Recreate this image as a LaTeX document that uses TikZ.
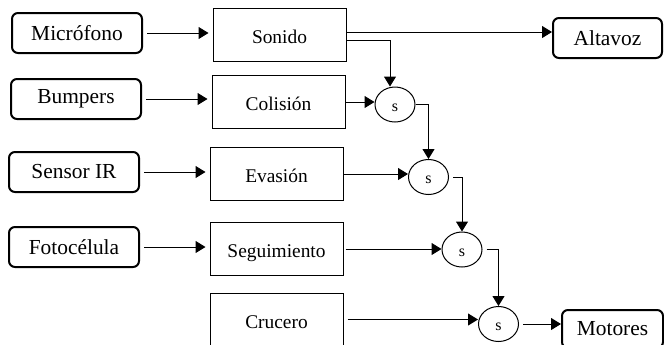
\documentclass[tikz,border=0pt]{standalone}
\usepackage{fontspec}
\setmainfont{LiberationSerif-Regular.ttf}
\usetikzlibrary{arrows.meta,positioning,shapes.geometric}
\tikzset{
    -{Triangle[length=5pt,width=6pt]},
    sensor/.style ={rectangle, draw, rounded corners=3pt, line width=1pt, minimum width=65pt, minimum height=20pt, font=\fontsize{10.7}{12}\selectfont},
    layer/.style ={rectangle, draw, minimum width=66.5pt, minimum height=26.5pt, text height=1.1em, text depth=0.25em, font=\fontsize{9.7}{11}\selectfont},
    supp/.style = {ellipse, draw, minimum width=20pt, minimum height=17.5pt, inner sep=0pt, text height=6.6pt, text depth=0pt, font=\fontsize{8}{8}\selectfont},
    gap/.style = {shorten <=2pt, shorten >=2pt}
}
\begin{document}
\begin{tikzpicture}[x=0.5pt,y=-0.5pt,line width=0.5pt]
    \clip (0,0) rectangle (664,344);
    % sensores
    \node[sensor] (mic) at (77,33) {Micrófono};
    \node[sensor] (bump) at (76,99) {Bumpers};
    \node[sensor] (ir) at (74,172) {Sensor IR};
    \node[sensor] (foto) at (74,247) {Fotocélula};
    % comportamientos
    \node[layer] (sonido) at (279.5,34.5) {Sonido};
    \node[layer] (colision) at (278.5,102) {Colisión};
    \node[layer] (evasion) at (276.5,174) {Evasión};
    \node[layer] (seguim) at (276.5,249) {Seguimiento};
    \node[layer] (crucero) at (276.5,319.5) {Crucero};
    % supresores
    \node[supp] (s1) at (395,104.5) {s};
    \node[supp] (s2) at (428.5,177) {s};
    \node[supp] (s3) at (462,249.5) {s};
    \node[supp] (s4) at (498.5,324) {s};
    % actuadores
    \node[sensor, minimum width=54.5pt] (altavoz) at (607.5,38) {Altavoz};
    \node[sensor, minimum width=50.5pt, minimum height=19pt] (motores) at (612.5,329) {Motores};

    \draw[gap] (mic) -- (mic -| sonido.west);
    \draw[gap] (bump) -- (bump -| colision.west);
    \draw[gap] (ir) -- (ir -| evasion.west);
    \draw[gap] (foto) -- (foto -| seguim.west);

    \coordinate (son1) at ([yshift=1.25pt]sonido.east);
    \coordinate (son2) at ([yshift=-2.75pt]sonido.east);
    \draw (son1) -- (son1 -| altavoz.west);
    \draw (son2) -| ([xshift=-2.5pt]s1.north);
    \draw (colision) -- (colision -| s1.west);
    \draw (s1) -| (s2);
    \draw (evasion) -- (evasion -| s2.west);
    \draw[shorten <=2pt] (s2) -| (s3);
    \draw[shorten <=1pt] (seguim) -- (seguim -| s3.west);
    \draw[shorten <=2pt] (s3) -| (s4);
    \draw[shorten <=2pt] (crucero) -- (crucero -| s4.west);
    \draw[shorten <=2pt] (s4) -- (s4 -| motores.west);
\end{tikzpicture}
\end{document}
